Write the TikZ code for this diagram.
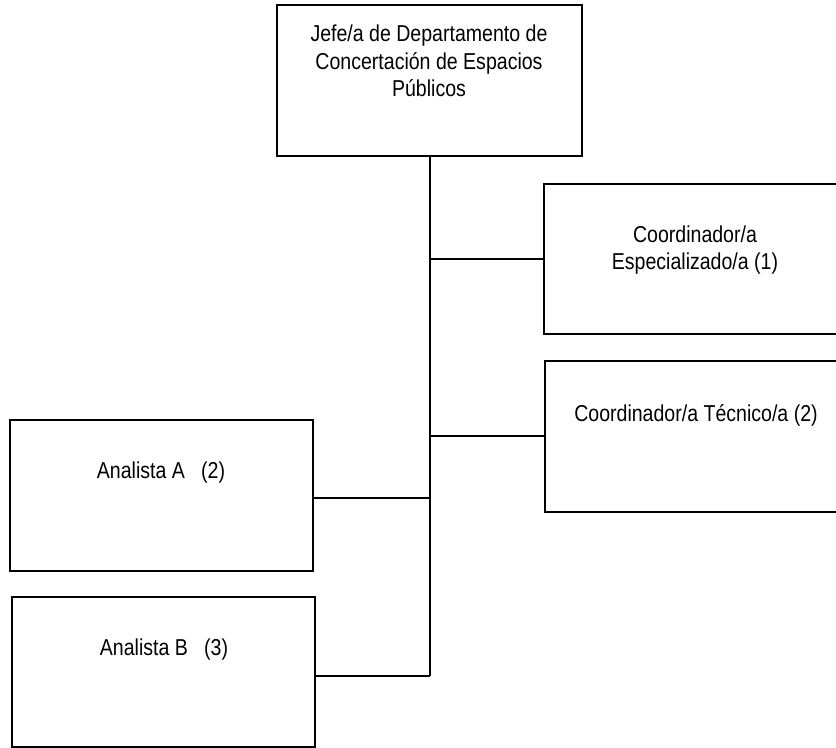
\documentclass[tikz,border=0pt]{standalone}
\usepackage{fontspec}
\setmainfont{Liberation Sans}[FakeStretch=0.85]
\usetikzlibrary{positioning,calc}

\begin{document}
\begin{tikzpicture}[x=0.75pt,y=-0.75pt,line width=1.5pt,
  orgbox/.style={draw,rectangle,minimum width=#1,minimum height=113pt,inner sep=0pt},
  orgtxt/.style={align=center,inner sep=0pt,font=\fontsize{17.25}{20.6}\selectfont}]
\useasboundingbox (0,0) rectangle (836,748);
% boxes
\node[orgbox=228.75pt] (jefe) at (429.5,80.5) {};
\node[orgbox=226.5pt] (espec) at (695,259) {};
\node[orgbox=226.5pt] (tecnico) at (696,436.5) {};
\node[orgbox=227.25pt] (analistaA) at (161.5,495.5) {};
\node[orgbox=227.25pt] (analistaB) at (163.5,672) {};
% texts
\node[orgtxt] (jefeT) at (429,61) {Jefe/a de Departamento de\\Concertación de Espacios\\Públicos};
\node[orgtxt] (especT) at (695,250) {Coordinador/a\\Especializado/a (1)};
\node[orgtxt] (tecnicoT) at (696,415) {Coordinador/a Técnico/a (2)};
\node[orgtxt] (analistaAT) at (161,473) {Analista A~~~(2)};
\node[orgtxt] (analistaBT) at (164,650) {Analista B~~~(3)};
% connectors
\coordinate (endB) at ([yshift=-3pt]analistaB.east);
\coordinate (endA) at ([yshift=-2pt]analistaA.east);
\draw (jefe.south) -- (jefe.south |- endB);
\draw (espec.west) -- (espec.west -| jefe.south);
\draw (tecnico.west) -- (tecnico.west -| jefe.south);
\draw (endA) -- (endA -| jefe.south);
\draw (endB) -- (endB -| jefe.south);
\end{tikzpicture}
\end{document}
